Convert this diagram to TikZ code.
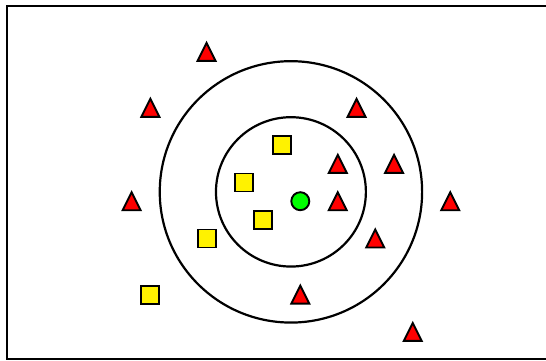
\documentclass[tikz,border=0pt]{standalone}
\usetikzlibrary{shapes.geometric}
\tikzset{
  mk/.style={draw=black, line width=1.9pt, line join=miter},
  sqmark/.style={mk, rectangle, fill=yellow, minimum size=18pt, inner sep=0pt},
  dotmark/.style={mk, circle, fill=green, minimum size=18pt, inner sep=0pt},
  trimark/.pic={\path[mk, fill=red] (0,9pt) -- (-9pt,-9pt) -- (9pt,-9pt) -- cycle;},
  ring/.style={draw=black, line width=2.2pt},
  frame/.style={draw=black, line width=2.2pt}
}
\begin{document}
\begin{tikzpicture}[x=1pt, y=-1pt]
  \useasboundingbox (0,0) rectangle (546,360);
  \draw[frame] (547,6) -- (7,6) -- (7,359) -- (547,359);
  \begin{scope}[shift={(300.3,201.2)}, x=18.74pt, y=18.67pt]
    \draw[ring] (-0.5,0.5) circle[radius=4];
    \draw[ring] (-0.5,0.5) circle[radius=7];
    % triangles
    \pic (t1) at (-5,8) {trimark};
    \pic (t2) at (-8,5) {trimark};
    \pic (t3) at (3,5) {trimark};
    \pic (t4) at (2,2) {trimark};
    \pic (t5) at (5,2) {trimark};
    \pic (t6) at (-9,0) {trimark};
    \pic (t7) at (2,0) {trimark};
    \pic (t8) at (8,0) {trimark};
    \pic (t9) at (4,-2) {trimark};
    \pic (t10) at (0,-5) {trimark};
    \pic (t11) at (6,-7) {trimark};
    % squares
    \node[sqmark] (s1) at (-1,3) {};
    \node[sqmark] (s2) at (-3,1) {};
    \node[sqmark] (s3) at (-2,-1) {};
    \node[sqmark] (s4) at (-5,-2) {};
    \node[sqmark] (s5) at (-8,-5) {};
    % query point
    \node[dotmark] (q) at (0,0) {};
  \end{scope}
\end{tikzpicture}
\end{document}
